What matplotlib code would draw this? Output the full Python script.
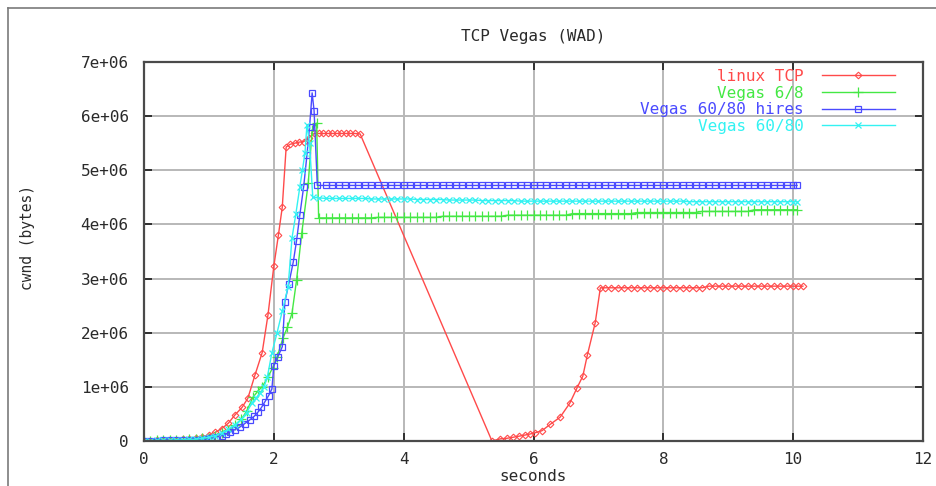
import matplotlib
matplotlib.use('Agg')
import numpy as np
import matplotlib.pyplot as plt
from matplotlib.lines import Line2D

plt.rcParams['font.family'] = ['DejaVu Sans Mono', 'DejaVu Sans']

# cwnd traces, seconds / millions of bytes
linux_t = [0.0, 0.1, 0.2, 0.3, 0.4, 0.5, 0.6, 0.7, 0.8, 0.9, 1.0, 1.1, 1.2, 1.3, 1.4,
           1.51, 1.6, 1.71, 1.82, 1.91, 2.0, 2.07, 2.13, 2.19, 2.25, 2.32, 2.39, 2.46,
           2.54, 2.62, 2.69, 2.76, 2.83, 2.9, 2.97, 3.04, 3.11, 3.18, 3.25, 3.33,
           5.36, 5.49, 5.59, 5.69, 5.78, 5.87, 5.95, 6.02, 6.13, 6.26, 6.41, 6.56, 6.67,
           6.76, 6.83, 6.95, 7.03, 7.1, 7.2, 7.3, 7.4, 7.5, 7.6, 7.7, 7.8, 7.9, 8.0, 8.1,
           8.2, 8.3, 8.4, 8.5, 8.6, 8.7, 8.8, 8.9, 9.0, 9.1, 9.2, 9.3, 9.4, 9.5, 9.6, 9.7,
           9.8, 9.9, 10.0, 10.08, 10.15]
linux_w = [0.0, 0.0, 0.01, 0.01, 0.02, 0.02, 0.03, 0.04, 0.06, 0.08, 0.11, 0.16, 0.23, 0.33, 0.48,
           0.62, 0.79, 1.22, 1.63, 2.33, 3.23, 3.8, 4.32, 5.43, 5.48, 5.5, 5.52, 5.53,
           5.6, 5.68, 5.68, 5.68, 5.68, 5.68, 5.68, 5.68, 5.68, 5.68, 5.68, 5.67,
           0.0, 0.04, 0.05, 0.07, 0.09, 0.11, 0.13, 0.15, 0.19, 0.31, 0.44, 0.70, 0.98,
           1.20, 1.59, 2.18, 2.83, 2.83, 2.83, 2.83, 2.83, 2.83, 2.83, 2.83, 2.83, 2.83, 2.83, 2.83,
           2.83, 2.83, 2.83, 2.83, 2.83, 2.86, 2.86, 2.86, 2.86, 2.86, 2.86, 2.86, 2.86, 2.86, 2.86, 2.86,
           2.86, 2.86, 2.86, 2.86, 2.86]

# common sample times after the slow-start peak
steady_t = [2.8, 2.9, 3.0, 3.1, 3.2, 3.3, 3.4, 3.5, 3.6, 3.7, 3.8, 3.9, 4.0, 4.1, 4.2, 4.3,
            4.4, 4.5, 4.6, 4.7, 4.8, 4.9, 5.0, 5.1, 5.2, 5.3, 5.4, 5.5, 5.6, 5.7, 5.8, 5.9,
            6.0, 6.1, 6.2, 6.3, 6.4, 6.5, 6.6, 6.7, 6.8, 6.9, 7.0, 7.1, 7.2, 7.3, 7.4, 7.5,
            7.6, 7.7, 7.8, 7.9, 8.0, 8.1, 8.2, 8.3, 8.4, 8.5, 8.6, 8.7, 8.8, 8.9, 9.0, 9.1,
            9.2, 9.3, 9.4, 9.5, 9.6, 9.7, 9.8, 9.9, 10.0, 10.06]

v68_t = [0.0, 0.1, 0.2, 0.3, 0.4, 0.5, 0.6, 0.7, 0.8, 0.9, 1.0, 1.1, 1.2, 1.3, 1.4, 1.5,
         1.58, 1.68, 1.76, 1.82, 1.91, 1.98, 2.05, 2.14, 2.21, 2.28, 2.35, 2.43, 2.53,
         2.59, 2.66, 2.69] + steady_t
v68_w = [0.0, 0.0, 0.01, 0.01, 0.01, 0.02, 0.02, 0.03, 0.04, 0.05, 0.06, 0.09, 0.14, 0.2, 0.29, 0.4,
         0.55, 0.81, 0.93, 1.0, 1.18, 1.35, 1.55, 1.9, 2.1, 2.36, 2.97, 3.84, 4.76,
         5.74, 5.87, 4.12,
         4.12, 4.12, 4.12, 4.12, 4.12, 4.12, 4.12, 4.12, 4.13, 4.13, 4.13, 4.13, 4.13, 4.13, 4.13, 4.13,
         4.13, 4.13, 4.15, 4.15, 4.15, 4.15, 4.15, 4.15, 4.15, 4.15, 4.15, 4.15, 4.17, 4.17, 4.17, 4.17,
         4.17, 4.17, 4.17, 4.17, 4.17, 4.17, 4.2, 4.2, 4.2, 4.2, 4.2, 4.2, 4.2, 4.2, 4.2, 4.2,
         4.22, 4.22, 4.22, 4.22, 4.22, 4.22, 4.22, 4.22, 4.22, 4.22, 4.24, 4.24, 4.24, 4.24,
         4.24, 4.24, 4.24, 4.24, 4.27, 4.27, 4.27, 4.27, 4.27, 4.27, 4.27, 4.27]

hires_t = [0.0, 0.1, 0.2, 0.3, 0.4, 0.5, 0.6, 0.7, 0.8, 0.86, 0.95, 1.03, 1.12, 1.2, 1.27,
           1.33, 1.4, 1.48, 1.55, 1.63, 1.7, 1.76, 1.81, 1.86, 1.92, 1.97, 2.0, 2.06, 2.13,
           2.17, 2.23, 2.3, 2.35, 2.4, 2.46, 2.51, 2.55, 2.59, 2.62, 2.67] + steady_t
hires_w = [0.0, 0.0, 0.0, 0.01, 0.01, 0.01, 0.01, 0.02, 0.02, 0.02, 0.03, 0.05, 0.07, 0.1, 0.13,
           0.17, 0.21, 0.26, 0.32, 0.39, 0.46, 0.54, 0.62, 0.72, 0.84, 0.96, 1.39, 1.55, 1.74,
           2.57, 2.9, 3.31, 3.7, 4.17, 4.7, 5.28, 5.8, 6.43, 6.1, 4.72] + [4.72] * len(steady_t)

v6080_t = [0.0, 0.1, 0.2, 0.3, 0.4, 0.5, 0.6, 0.7, 0.8, 0.9, 1.0, 1.1, 1.2, 1.3, 1.4, 1.5,
           1.58, 1.66, 1.73, 1.79, 1.85, 1.9, 1.97, 2.05, 2.13, 2.22, 2.28, 2.34, 2.4, 2.44,
           2.48, 2.51, 2.55, 2.6, 2.7] + steady_t
v6080_w = [0.0, 0.0, 0.01, 0.01, 0.01, 0.02, 0.02, 0.03, 0.03, 0.05, 0.07, 0.1, 0.15, 0.22, 0.3, 0.4,
           0.52, 0.7, 0.8, 0.89, 1.0, 1.18, 1.63, 2.0, 2.4, 2.85, 3.75, 4.2, 4.69, 5.0,
           5.32, 5.84, 5.5, 4.5, 4.49,
           4.48, 4.48, 4.48, 4.48, 4.48, 4.48, 4.48, 4.47, 4.47, 4.47, 4.47, 4.47, 4.47, 4.47, 4.46, 4.46,
           4.46, 4.46, 4.46, 4.45, 4.45, 4.45, 4.45, 4.45, 4.44, 4.44, 4.44, 4.44, 4.44, 4.44, 4.43, 4.43,
           4.43, 4.43, 4.43, 4.43, 4.43, 4.43, 4.43, 4.43, 4.43, 4.43, 4.43, 4.43, 4.43, 4.43, 4.43, 4.43,
           4.43, 4.43, 4.43, 4.43, 4.43, 4.43, 4.43, 4.43, 4.42, 4.42, 4.42, 4.42, 4.42, 4.42, 4.42, 4.42,
           4.42, 4.42, 4.42, 4.42, 4.42, 4.42, 4.42, 4.42, 4.42, 4.42]

series_names = ['linux TCP', 'Vegas 6/8', 'Vegas 60/80 hires', 'Vegas 60/80']
x_ticks = [0, 2, 4, 6, 8, 10, 12]
y_ticks = [0, 1e6, 2e6, 3e6, 4e6, 5e6, 6e6, 7e6]
y_tick_labels = ['0', '1e+06', '2e+06', '3e+06', '4e+06', '5e+06', '6e+06', '7e+06']

W, H = 937, 486
FS = 11.5
fig = plt.figure(figsize=(W / 100, H / 100), dpi=100)
ax = fig.add_axes([144 / W, 45 / H, 779 / W, 379 / H])

styles = [('#ff4a4a', 'D', 3.4, 0.8),
          ('#44e844', '+', 6.5, 0.9),
          ('#4a4aff', 's', 4.0, 0.9),
          ('#33f2f2', 'x', 5.0, 0.9)]
traces = [(linux_t, linux_w), (v68_t, v68_w), (hires_t, hires_w), (v6080_t, v6080_w)]

for (t, w), name, (col, mk, ms, mew) in zip(traces, series_names, styles):
    ax.plot(t, np.array(w) * 1e6, color=col, lw=1.0, marker=mk, ms=ms,
            mfc='none', mec=col, mew=mew, label=name)

ax.set_xlim(0, 12)
ax.set_ylim(0, 7e6)
ax.set_xticks(x_ticks)
ax.set_xticklabels([str(v) for v in x_ticks])
ax.set_yticks(y_ticks)
ax.set_yticklabels(y_tick_labels)
ax.grid(True, color='#b8b8b8', lw=1.4)
ax.set_axisbelow(True)
for s in ax.spines.values():
    s.set_color('#4a4a4a')
    s.set_linewidth(1.6)
ax.tick_params(direction='in', length=6, width=1.4, color='#303030',
               top=True, right=True, labelsize=FS, labelcolor='#2a2a2a')
ax.tick_params(axis='y', pad=11)
ax.tick_params(axis='x', pad=8)

fig.text(533 / W, 1 - 37 / H, 'TCP Vegas (WAD)', ha='center', va='center',
         fontsize=FS, color='#2a2a2a')
fig.text(28 / W, 1 - 237 / H, 'cwnd (bytes)', rotation=90, ha='center', va='center',
         fontsize=10.5, color='#2a2a2a')
fig.text(533 / W, 1 - 476 / H, 'seconds', ha='center', va='center',
         fontsize=FS, color='#2a2a2a')

leg = ax.legend(loc='upper right', bbox_to_anchor=(895 / W, 1 - 69 / H),
                bbox_transform=fig.transFigure, frameon=False, markerfirst=False,
                labelcolor='linecolor', fontsize=FS, handlelength=4.6,
                handletextpad=1.1, labelspacing=0.1, borderpad=0, borderaxespad=0)

# window frame
fig.add_artist(Line2D([8 / W, 8 / W], [0, 1 - 8 / H], transform=fig.transFigure,
                      color='#7a7a7a', lw=1.2))
fig.add_artist(Line2D([8 / W, 1], [1 - 8 / H, 1 - 8 / H], transform=fig.transFigure,
                      color='#7a7a7a', lw=1.2))

fig.savefig('out.png', dpi=100)
